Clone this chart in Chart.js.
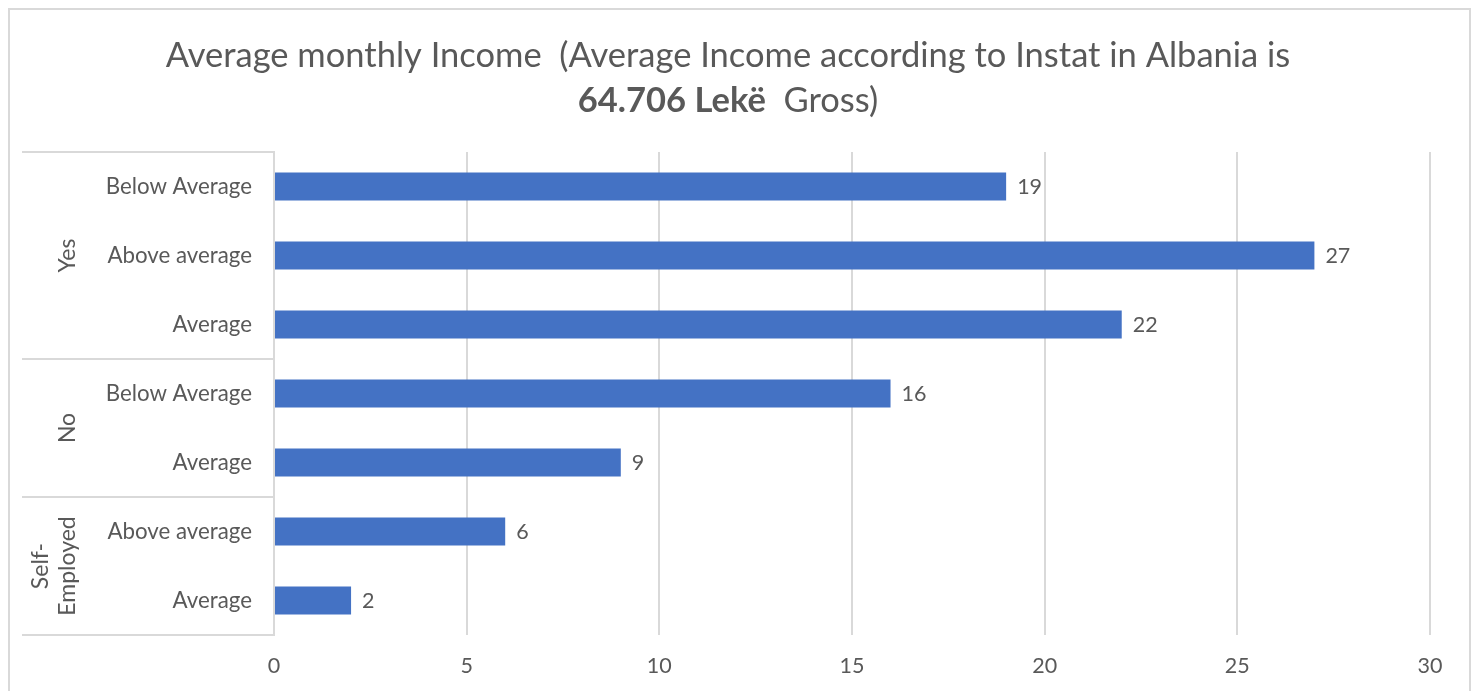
<!DOCTYPE html>
<html>
<head>
<meta charset="utf-8">
<script src="https://cdn.jsdelivr.net/npm/chart.js@4/dist/chart.umd.min.js"></script>
<style>
  html, body { margin: 0; padding: 0; background: #ffffff; }
  #wrap { width: 1478px; height: 691px; position: relative; }
</style>
</head>
<body>
<div id="wrap"><canvas id="chart" width="1478" height="691"></canvas></div>
<script>
// Income categories (inner level) and their employment groups (outer level)
const categories = ['Below Average', 'Above average', 'Average', 'Below Average', 'Average', 'Above average', 'Average'];
const groups = [
  { label: ['Yes'], count: 3 },
  { label: ['No'], count: 2 },
  { label: ['Self-', 'Employed'], count: 2 }
];
const respondents = [19, 27, 22, 16, 9, 6, 2];
const xTicks = [0, 5, 10, 15, 20, 25, 30];
const titleParts = [
  [{ text: 'Average monthly Income  (Average Income according to Instat in Albania is', bold: false }],
  [{ text: '64.706 Lekë', bold: true }, { text: '  Gross)', bold: false }]
];

const FONT = 'Lato, "Open Sans", sans-serif';
const TEXT = '#595959';
const LINE = '#d9d9d9';

// Frame, title and the two-level category axis drawn around the plot
const decorations = {
  id: 'decorations',
  beforeDraw(chart) {
    const ctx = chart.ctx;
    ctx.save();
    ctx.fillStyle = '#ffffff';
    ctx.fillRect(0, 0, chart.width, chart.height);
    ctx.strokeStyle = LINE;
    ctx.lineWidth = 2;
    ctx.strokeRect(9, 9, 1461, 700);
    ctx.restore();
  },
  afterDraw(chart) {
    const ctx = chart.ctx;
    const area = chart.chartArea;
    ctx.save();

    // title with a bold run on the second line
    ctx.fillStyle = TEXT;
    ctx.textBaseline = 'alphabetic';
    const baselines = [67, 112];
    titleParts.forEach((parts, i) => {
      let total = 0;
      parts.forEach(p => {
        ctx.font = (p.bold ? 'bold ' : '') + '34.5px ' + FONT;
        total += ctx.measureText(p.text).width;
      });
      let x = 728 - total / 2;
      parts.forEach(p => {
        ctx.font = (p.bold ? 'bold ' : '') + '34.5px ' + FONT;
        ctx.textAlign = 'left';
        ctx.fillText(p.text, x, baselines[i]);
        x += ctx.measureText(p.text).width;
      });
    });

    // group separators and outer-level labels
    const step = (area.bottom - area.top) / categories.length;
    ctx.strokeStyle = LINE;
    ctx.lineWidth = 2;
    let start = 0;
    const boundaries = [area.top];
    groups.forEach(g => {
      start += g.count;
      boundaries.push(area.top + start * step);
    });
    boundaries.forEach(b => {
      ctx.beginPath();
      ctx.moveTo(22, Math.round(b));
      ctx.lineTo(area.left, Math.round(b));
      ctx.stroke();
    });
    ctx.font = '23px ' + FONT;
    ctx.fillStyle = TEXT;
    ctx.textAlign = 'center';
    ctx.textBaseline = 'middle';
    groups.forEach((g, i) => {
      const cy = (boundaries[i] + boundaries[i + 1]) / 2;
      const n = g.label.length;
      const lh = 27;
      const cx = n > 1 ? 54 : 68;
      ctx.save();
      ctx.translate(cx, cy);
      ctx.rotate(-Math.PI / 2);
      g.label.forEach((line, k) => {
        ctx.fillText(line, 0, (k - (n - 1) / 2) * lh);
      });
      ctx.restore();
    });

    // value labels at the end of each bar
    const meta = chart.getDatasetMeta(0);
    ctx.font = '21.5px ' + FONT;
    ctx.textAlign = 'left';
    ctx.textBaseline = 'middle';
    meta.data.forEach((bar, i) => {
      ctx.fillText(String(respondents[i]), bar.x + 11, bar.y + 1);
    });
    ctx.restore();
  }
};

new Chart(document.getElementById('chart'), {
  type: 'bar',
  data: {
    labels: categories,
    datasets: [{
      data: respondents,
      backgroundColor: '#4472c4',
      borderWidth: 0,
      barPercentage: 0.405,
      categoryPercentage: 1.0
    }]
  },
  options: {
    indexAxis: 'y',
    responsive: false,
    animation: false,
    devicePixelRatio: 1,
    layout: { padding: { left: 22, right: 48, top: 152, bottom: 0 } },
    plugins: {
      legend: { display: false },
      title: { display: false },
      tooltip: { enabled: false }
    },
    scales: {
      x: {
        min: 0,
        max: 30,
        afterBuildTicks(scale) { scale.ticks = xTicks.map(v => ({ value: v })); },
        afterFit(scale) { scale.height = 56; },
        grid: { color: LINE, lineWidth: 2, drawTicks: false },
        border: { display: false },
        ticks: { color: TEXT, font: { family: FONT, size: 21.5 }, padding: 18 }
      },
      y: {
        afterFit(scale) { scale.width = 252; },
        grid: { display: false, drawTicks: false },
        border: { display: true, color: LINE, width: 2 },
        ticks: { color: TEXT, font: { family: FONT, size: 22.3 }, padding: 22 }
      }
    }
  },
  plugins: [decorations]
});
</script>
</body>
</html>
